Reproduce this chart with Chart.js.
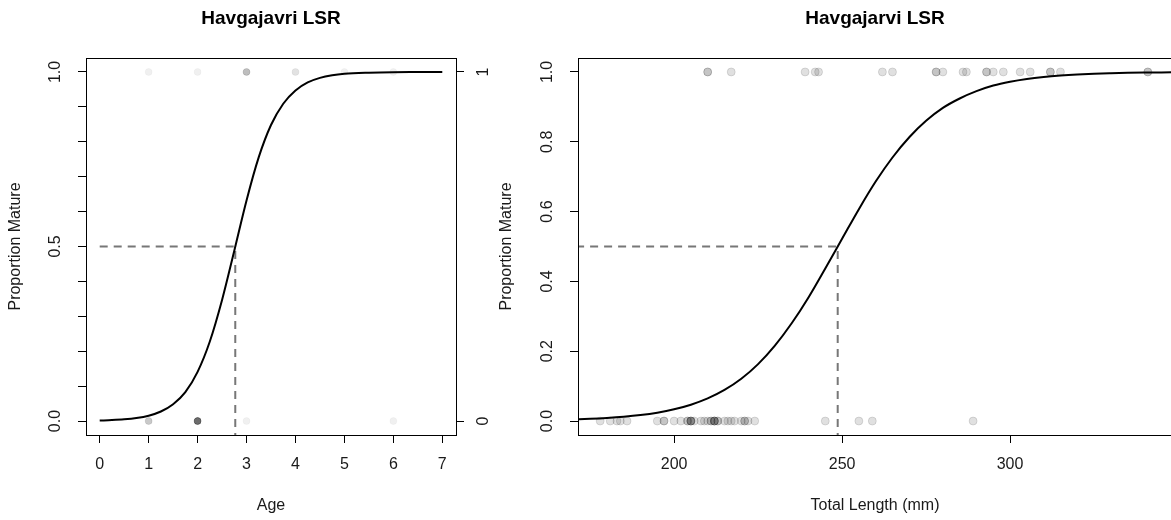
<!DOCTYPE html>
<html><head><meta charset="utf-8">
<script src="https://cdn.jsdelivr.net/npm/chart.js@4.4.1/dist/chart.umd.min.js"></script>
<style>
html,body{margin:0;padding:0;background:#fff;overflow:hidden;width:1171px;height:520px;}
#c1{position:absolute;left:0;top:0;}
#c2{position:absolute;left:470px;top:0;}
</style></head><body>
<canvas id="c1" width="560" height="520"></canvas>
<canvas id="c2" width="710" height="520"></canvas>
<script>
// ---------- Left panel: Age ----------
const ageMature = [1, 2, 3, 3, 3, 3, 3, 4, 4, 5, 6];
const ageImmature = [1, 1, 1, 1, 2, 2, 2, 2, 2, 2, 2, 2, 2, 2, 2, 2, 2, 2, 2, 3, 6];
const ageGrid = [0, 0.25, 0.5, 0.75, 1, 1.25, 1.5, 1.75, 2, 2.25, 2.5, 2.75, 3, 3.25, 3.5, 3.75, 4, 4.25, 4.5, 4.75, 5, 5.5, 6, 6.5, 7];
const ageCurve = [0.0015, 0.0027, 0.0048, 0.0086, 0.0154, 0.0274, 0.0483, 0.083, 0.141, 0.228, 0.347, 0.488, 0.632, 0.756, 0.848, 0.909, 0.947, 0.970, 0.983, 0.9905, 0.9947, 0.998, 0.9995, 0.9998, 0.9999];
const ageRefX = [0, 2.77, 2.77];
const ageRefY = [0.5, 0.5, -0.1];
const ageTicks = [0, 1, 2, 3, 4, 5, 6, 7];
const ageTickLabels = ['0', '1', '2', '3', '4', '5', '6', '7'];
const ageYTicks = [0, 0.1, 0.2, 0.3, 0.4, 0.5, 0.6, 0.7, 0.8, 0.9, 1.0];
const ageYLabelVals = [0, 0.5, 1];
const ageYLabels = ['0.0', '0.5', '1.0'];
const ageY2Ticks = [0, 1];
const ageY2Labels = ['0', '1'];

// ---------- Right panel: Total Length ----------
const lenMature = [210, 210, 217, 239, 242, 243, 262, 265, 278, 278, 280, 286, 287, 293, 293, 295, 298, 303, 306, 312, 312, 315, 341, 341];
const lenImmature = [178, 181, 183, 184, 186, 195, 197, 197, 200, 202, 204, 204, 205, 205, 205, 205, 206, 208, 209, 210, 211, 211, 212, 212, 212, 212, 213, 213, 215, 216, 217, 218, 220, 221, 221, 222, 224, 245, 255, 259, 289];
const lenGrid = [170, 175, 180, 185, 190, 195, 200, 205, 210, 215, 220, 225, 230, 235, 240, 245, 250, 255, 260, 265, 270, 275, 280, 285, 290, 295, 300, 305, 310, 315, 320, 325, 330, 335, 340, 345, 350];
const lenCurve = [0.0044, 0.0062, 0.0087, 0.0122, 0.0171, 0.0240, 0.0336, 0.0468, 0.0648, 0.0891, 0.121, 0.163, 0.216, 0.280, 0.354, 0.437, 0.522, 0.607, 0.686, 0.755, 0.813, 0.860, 0.897, 0.924, 0.945, 0.961, 0.972, 0.980, 0.9857, 0.9898, 0.9928, 0.9949, 0.9963, 0.9974, 0.9982, 0.9987, 0.9991];
const lenRefX = [150, 248.7, 248.7];
const lenRefY = [0.5, 0.5, -0.1];
const lenTicks = [200, 250, 300];
const lenTickLabels = ['200', '250', '300'];
const lenYTicks = [0, 0.2, 0.4, 0.6, 0.8, 1.0];
const lenYLabels = ['0.0', '0.2', '0.4', '0.6', '0.8', '1.0'];

const FONT = '"Liberation Sans", Arial, Helvetica, sans-serif';
const TXT = '#1a1a1a';

const framePlugin = {
  id: 'frame',
  afterDraw(chart, args, opts) {
    const {ctx, chartArea: a} = chart;
    ctx.save();
    ctx.strokeStyle = '#000';
    ctx.lineWidth = 1;
    ctx.strokeRect(Math.round(a.left) + 0.5, Math.round(a.top) + 0.5, Math.round(a.right - a.left), Math.round(a.bottom - a.top));
    ctx.fillStyle = TXT;
    ctx.font = '16px ' + FONT;
    ctx.textAlign = 'center';
    ctx.textBaseline = 'middle';
    (opts.labels || []).forEach(L => {
      const s = chart.scales[L.axis];
      L.values.forEach((v, i) => {
        const p = s.getPixelForValue(v);
        if (s.isHorizontal()) {
          ctx.fillText(L.text[i], p, a.bottom + L.offset);
        } else {
          const x = L.side === 'left' ? a.left - L.offset : a.right + L.offset;
          ctx.save();
          ctx.translate(x, p);
          ctx.rotate(-Math.PI / 2);
          ctx.fillText(L.text[i], 0, 0);
          ctx.restore();
        }
      });
    });
    ctx.restore();
  }
};

const tickGrid = {display: true, drawOnChartArea: false, drawTicks: true, tickLength: 8, color: '#000', lineWidth: 1};

function pts(xs, y) { return xs.map(x => ({x: x, y: y})); }
function xy(xs, ys) { return xs.map((x, i) => ({x: x, y: ys[i]})); }

function makeChart(id, cfg) {
  return new Chart(document.getElementById(id), {
    type: 'scatter',
    data: {datasets: [
      {data: xy(cfg.gridX, cfg.curve), showLine: true, borderColor: '#000', borderWidth: 2, pointRadius: 0, cubicInterpolationMode: 'monotone', order: 1},
      {data: xy(cfg.refX, cfg.refY), showLine: true, borderColor: '#777', borderWidth: 2, borderDash: [8, 6], pointRadius: 0, order: 2},
      {data: pts(cfg.mature, 1), pointRadius: cfg.r, pointBackgroundColor: cfg.pc, pointBorderColor: cfg.pc, pointBorderWidth: cfg.bw, order: 3},
      {data: pts(cfg.immature, 0), pointRadius: cfg.r, pointBackgroundColor: cfg.pc, pointBorderColor: cfg.pc, pointBorderWidth: cfg.bw, order: 3}
    ]},
    options: {
      responsive: false,
      animation: false,
      devicePixelRatio: 1,
      layout: {padding: {left: 0, right: cfg.padRight, top: 0, bottom: 0}},
      plugins: {
        legend: {display: false},
        tooltip: {enabled: false},
        title: {display: true, text: cfg.title, fullSize: false, color: '#000', font: {family: FONT, size: 19, weight: 'bold'}, padding: {top: 7, bottom: 28.2}},
        frame: {labels: cfg.labels}
      },
      scales: cfg.scales
    },
    plugins: [framePlugin]
  });
}

// Left chart
makeChart('c1', {
  title: 'Havgajavri LSR',
  gridX: ageGrid, curve: ageCurve, refX: ageRefX, refY: ageRefY,
  mature: ageMature, immature: ageImmature,
  r: 3.5, bw: 0.5, pc: 'rgba(0,0,0,0.06)', padRight: 0,
  labels: [
    {axis: 'x', values: ageTicks, text: ageTickLabels, offset: 30},
    {axis: 'y', side: 'left', values: ageYLabelVals, text: ageYLabels, offset: 30},
    {axis: 'y2', side: 'right', values: ageY2Ticks, text: ageY2Labels, offset: 28}
  ],
  scales: {
    x: {type: 'linear', position: 'bottom', min: -0.28, max: 7.28,
      afterBuildTicks: s => { s.ticks = ageTicks.map(v => ({value: v})); },
      afterFit: s => { s.height = 85; },
      ticks: {display: false}, grid: tickGrid, border: {display: false},
      title: {display: true, text: 'Age', color: TXT, font: {family: FONT, size: 16}, padding: {top: 0, bottom: 5}}},
    y: {type: 'linear', position: 'left', min: -0.04, max: 1.04,
      afterBuildTicks: s => { s.ticks = ageYTicks.map(v => ({value: v})); },
      afterFit: s => { s.width = 86; },
      ticks: {display: false}, grid: tickGrid, border: {display: false},
      title: {display: true, text: 'Proportion Mature', color: TXT, font: {family: FONT, size: 16}, padding: {top: 6, bottom: 0}}},
    y2: {type: 'linear', position: 'right', min: -0.04, max: 1.04,
      afterBuildTicks: s => { s.ticks = ageY2Ticks.map(v => ({value: v})); },
      afterFit: s => { s.width = 104; },
      ticks: {display: false}, grid: tickGrid, border: {display: false}}
  }
});

// Right chart
makeChart('c2', {
  title: 'Havgajarvi LSR',
  gridX: lenGrid, curve: lenCurve, refX: lenRefX, refY: lenRefY,
  mature: lenMature, immature: lenImmature,
  r: 4, bw: 1, pc: 'rgba(0,0,0,0.12)', padRight: 8,
  labels: [
    {axis: 'x', values: lenTicks, text: lenTickLabels, offset: 30},
    {axis: 'y', side: 'left', values: lenYTicks, text: lenYLabels, offset: 30}
  ],
  scales: {
    x: {type: 'linear', position: 'bottom', min: 171.4, max: 348.2,
      afterBuildTicks: s => { s.ticks = lenTicks.map(v => ({value: v})); },
      afterFit: s => { s.height = 85; },
      ticks: {display: false}, grid: tickGrid, border: {display: false},
      title: {display: true, text: 'Total Length (mm)', color: TXT, font: {family: FONT, size: 16}, padding: {top: 0, bottom: 5}}},
    y: {type: 'linear', position: 'left', min: -0.04, max: 1.04,
      afterBuildTicks: s => { s.ticks = lenYTicks.map(v => ({value: v})); },
      afterFit: s => { s.width = 108; },
      ticks: {display: false}, grid: tickGrid, border: {display: false},
      title: {display: true, text: 'Proportion Mature', color: TXT, font: {family: FONT, size: 16}, padding: {top: 27.4, bottom: 0}}}
  }
});
</script>
</body></html>
